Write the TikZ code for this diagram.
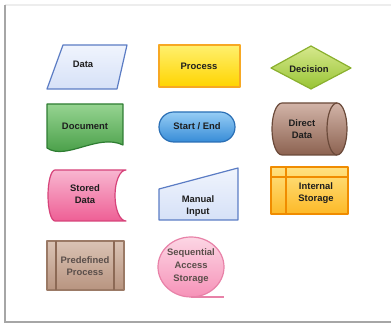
\documentclass[tikz,border=0pt]{standalone}
\usepackage{fontspec}
\setmainfont{Liberation Sans}
\definecolor{txtdark}{HTML}{1E1E1E}
\definecolor{txtgray}{HTML}{5A4E4A}
\tikzset{
  shapeline/.style={line width=0.03cm, line join=round},
  lbl/.style={font=\fontsize{6.7}{8.6}\selectfont\bfseries, text=txtdark, align=center, inner sep=0pt},
  lblgray/.style={lbl, text=txtgray}
}
\begin{document}
\begin{tikzpicture}
                \useasboundingbox (0,0) rectangle (9.775,8.125);
                % Drawing frame
                \draw [line width=0.03cm, draw=black!7] (0.125,8.000000) -- (9.775,8.000000);%
                \draw [line width=0.07cm, draw=black!35] (0.125,8.000000) -- (0.125,0.075000) -- (9.775,0.075000);%

                % Drawing shape Data
                \draw [shapeline, draw={rgb,255:red,91;green,124;blue,196}, top color={rgb,255:red,240;green,244;blue,253}, bottom color={rgb,255:red,214;green,225;blue,247}] (1.175000,5.900000) -- (2.925000,5.900000) -- (3.175000,7.000000) -- (1.575000,7.000000) -- cycle;%
                \node [lbl] (data) at (2.075000,6.525000) {Data};%

                % Drawing shape Process
                \draw [shapeline, draw={rgb,255:red,247;green,168;blue,35}, top color={rgb,255:red,255;green,240;blue,110}, bottom color={rgb,255:red,255;green,212;blue,0}] (3.975000,5.950000) rectangle (6.000000,7.000000);%
                \node [lbl] (process) at (4.975000,6.475000) {Process};%

                % Drawing shape Decision
                \draw [shapeline, draw={rgb,255:red,138;green,176;blue,46}, top color={rgb,255:red,214;green,232;blue,140}, bottom color={rgb,255:red,152;green,196;blue,52}] (6.775000,6.425000) -- (7.775000,6.975000) -- (8.775000,6.425000) -- (7.775000,5.900000) -- cycle;%
                \node [lbl] (decision) at (7.725000,6.400000) {Decision};%

                % Drawing shape Document
                \draw [shapeline, draw={rgb,255:red,46;green,125;blue,50}, top color={rgb,255:red,150;green,212;blue,145}, bottom color={rgb,255:red,60;green,150;blue,60}] (1.175000,5.525000) -- (3.075000,5.525000) -- (3.075000,4.500000) .. controls (2.450000,4.800000) and (1.650000,4.100000) .. (1.175000,4.425000) -- cycle;%
                \node [lbl] (document) at (2.125000,4.975000) {Document};%

                % Drawing shape Start / End
                \draw [shapeline, draw={rgb,255:red,42;green,111;blue,181}, top color={rgb,255:red,150;green,205;blue,245}, bottom color={rgb,255:red,55;green,140;blue,215}, rounded corners=0.370000cm] (3.975000,4.575000) rectangle (5.875000,5.325000);%
                \node [lbl] (startend) at (4.925000,4.975000) {Start / End};%

                % Drawing shape Direct Data
                \draw [shapeline, draw={rgb,255:red,107;green,74;blue,58}, top color={rgb,255:red,210;green,180;blue,168}, bottom color={rgb,255:red,140;green,98;blue,80}] (7.050000,5.550000) -- (8.425000,5.550000) arc (90:-90:0.250000 and 0.650000) -- (7.050000,4.250000) arc (270:90:0.250000 and 0.650000) -- cycle;%
                \draw [shapeline, draw={rgb,255:red,107;green,74;blue,58}] (8.425000,5.550000) arc (90:270:0.250000 and 0.650000);%
                \node [lbl] (directdata) at (7.550000,4.900000) {Direct\\Data};%

                % Drawing shape Stored Data
                \draw [shapeline, draw={rgb,255:red,214;green,67;blue,122}, top color={rgb,255:red,248;green,182;blue,208}, bottom color={rgb,255:red,238;green,95;blue,149}] (1.375000,3.875000) -- (3.150000,3.875000) arc (90:270:0.275000 and 0.637500) -- (1.375000,2.600000) arc (270:90:0.175000 and 0.637500) -- cycle;%
                \node [lbl] (storeddata) at (2.125000,3.275000) {Stored\\Data};%

                % Drawing shape Manual Input
                \draw [shapeline, draw={rgb,255:red,91;green,124;blue,196}, top color={rgb,255:red,240;green,244;blue,253}, bottom color={rgb,255:red,214;green,225;blue,247}] (3.975000,2.625000) -- (5.950000,2.625000) -- (5.950000,3.925000) -- (3.975000,3.400000) -- cycle;%
                \node [lbl] (manualinput) at (4.950000,2.975000) {Manual\\Input};%

                % Drawing shape Internal Storage
                \draw [shapeline, draw={rgb,255:red,240;green,140;blue,0}, top color={rgb,255:red,255;green,226;blue,130}, bottom color={rgb,255:red,253;green,185;blue,39}] (6.775000,2.775000) rectangle (8.700000,3.950000);%
                \draw [shapeline, draw={rgb,255:red,240;green,140;blue,0}] (7.150000,3.950000) -- (7.150000,2.775000);%
                \draw [shapeline, draw={rgb,255:red,240;green,140;blue,0}] (6.775000,3.700000) -- (8.700000,3.700000);%
                \node [lbl] (internalstorage) at (7.900000,3.300000) {Internal\\Storage};%

                % Drawing shape Predefined Process
                \draw [shapeline, draw={rgb,255:red,155;green,122;blue,102}, top color={rgb,255:red,218;green,195;blue,180}, bottom color={rgb,255:red,184;green,148;blue,128}] (1.175000,0.875000) rectangle (3.100000,2.100000);%
                \draw [shapeline, draw={rgb,255:red,140;green,105;blue,85}] (1.400000,2.100000) -- (1.400000,0.875000);%
                \draw [shapeline, draw={rgb,255:red,140;green,105;blue,85}] (2.850000,2.100000) -- (2.850000,0.875000);%
                \node [lblgray] (predefined) at (2.125000,1.475000) {Predefined\\Process};%

                % Drawing shape Sequential Access Storage
                \draw [shapeline, draw={rgb,255:red,232;green,130;blue,168}, top color={rgb,255:red,252;green,214;blue,228}, bottom color={rgb,255:red,246;green,146;blue,184}] (4.775000,1.450000) ellipse (0.825000 and 0.750000);%
                \draw [shapeline, draw={rgb,255:red,232;green,130;blue,168}] (4.775000,0.700000) -- (5.600000,0.700000);%
                \node [lblgray, font=\fontsize{6.7}{9.2}\selectfont\bfseries] (sequential) at (4.775000,1.475000) {Sequential\\Access\\Storage};%
\end{tikzpicture}
\end{document}
